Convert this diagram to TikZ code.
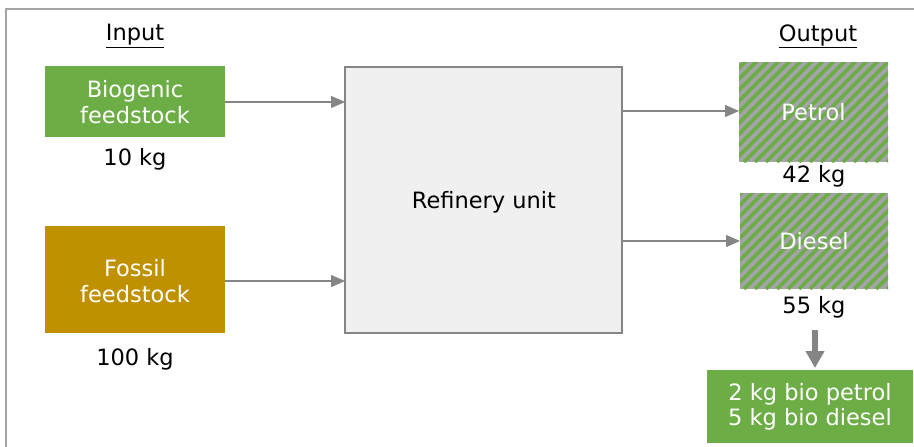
\documentclass[tikz,border=0pt]{standalone}
\usepackage{fontspec}
\setmainfont{DejaVu Sans}
\usetikzlibrary{arrows.meta}
\definecolor{bgreen}{HTML}{6DAD46}
\definecolor{fossil}{HTML}{BF9000}
\definecolor{lgray}{HTML}{F0F0F0}
\definecolor{mgray}{HTML}{858585}
\definecolor{hgray}{HTML}{A3A3A8}
\tikzset{
  txt/.style={font=\fontsize{22.5}{26}\selectfont, text=black, align=center},
  filled/.style={minimum width=#1, inner sep=0pt, align=center, text=white, font=\fontsize{22.5}{26}\selectfont},
  conn/.style={draw=mgray, line width=1.4pt, -{Triangle[length=14pt,width=12pt]}},
  hatch/.style={bgreen, line width=3.8pt},
}
\begin{document}
\begin{tikzpicture}[x=1pt,y=-1pt]
\useasboundingbox (0,0) rectangle (914,447);
% frame
\draw[hgray, line width=2pt] (6,447) -- (6,9) -- (914,9);
% labels
\node[txt] (in) at (135,36) {\underline{Input}};
\node[txt] (out) at (818,36) {\underline{Output}};
% input boxes
\fill[bgreen] (45,66) rectangle (225,137);
\node[filled=180pt] (bio) at (135,102) {Biogenic\\feedstock};
\coordinate (bioR) at (225,102);
\node[txt] (bkg) at (135,159) {10 kg};
\fill[fossil] (45,226) rectangle (225,333);
\node[filled=180pt] (fos) at (135,281) {Fossil\\feedstock};
\coordinate (fosR) at (225,281);
\node[txt] (fkg) at (135,359) {100 kg};
% refinery
\draw[mgray, fill=lgray, line width=2pt] (345,67) rectangle (622,333);
\node[txt] (ref) at (484,202) {Refinery unit};
\coordinate (refIn1) at (345,102);
\coordinate (refIn2) at (345,281);
\coordinate (refOut1) at (623,111);
\coordinate (refOut2) at (623,241);
% hatched boxes
\begin{scope}
  \clip (739,62) rectangle (888,162);
  \fill[hgray] (739,62) rectangle (888,162);
  \foreach \k in {-10,...,22} {
    \draw[hatch] (700+\k*11,162) -- ++(110,-110);
  }
\end{scope}
\node[filled=149pt, text=white] (pet) at (813.5,112) {Petrol};
\coordinate (petL) at (739,111);
\node[txt] (pkg) at (814,176) {42 kg};
\begin{scope}
  \clip (740,193) rectangle (888,289);
  \fill[hgray] (740,193) rectangle (888,289);
  \foreach \k in {-10,...,22} {
    \draw[hatch] (700+\k*11,289) -- ++(110,-110);
  }
\end{scope}
\node[filled=148pt] (die) at (814,241) {Diesel};
\coordinate (dieL) at (740,241);
\node[txt] (dkg) at (814,307) {55 kg};
% result box
\fill[bgreen] (707,370) rectangle (913,443);
\node[filled=206pt] (res) at (810,407) {2 kg bio petrol\\[-1pt]5 kg bio diesel};
% arrows
\draw[conn] (bioR) -- (refIn1);
\draw[conn] (fosR) -- (refIn2);
\draw[conn] (refOut1) -- (petL);
\draw[conn] (refOut2) -- (dieL);
\coordinate (dTop) at (815,330);
\coordinate (dBot) at (815,368);
\draw[mgray, line width=6pt, -{Triangle[length=17pt,width=18pt]}] (dTop) -- (dBot);
\end{tikzpicture}
\end{document}
